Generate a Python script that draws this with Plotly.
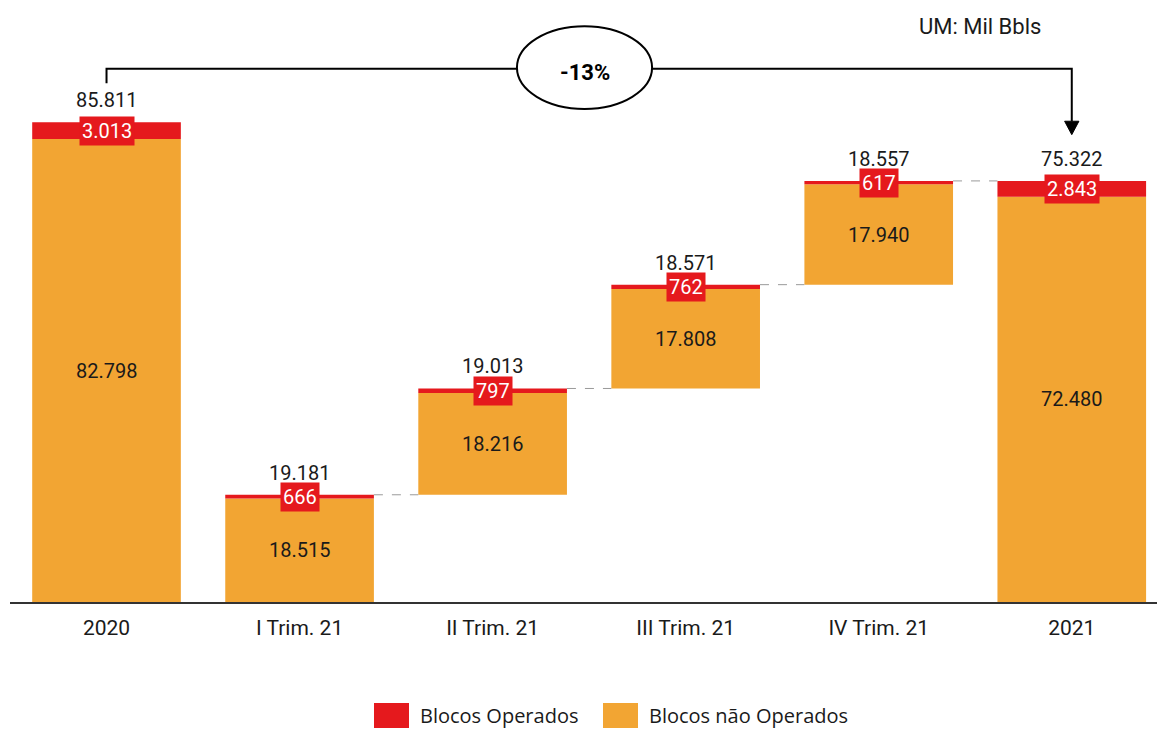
import plotly.graph_objects as go

# Production (Mil Bbls) per period
categories = ["2020", "I Trim. 21", "II Trim. 21", "III Trim. 21", "IV Trim. 21", "2021"]
nao_operados = [82.798, 18.515, 18.216, 17.808, 17.940, 72.480]
operados = [3.013, 0.666, 0.797, 0.762, 0.617, 2.843]
totais = [85.811, 19.181, 19.013, 18.571, 18.557, 75.322]
variacao = "-13%"

RED = "#E5191D"
ORANGE = "#F2A533"
NUM_FONT = "Roboto"
TXT_FONT = "Open Sans"


def fmt(v):
    # values are in thousands; '.' is the thousands separator
    return f"{v:.3f}" if v >= 1 else f"{round(v * 1000):d}"


# Bar bases: annual bars start at zero, quarterly bars stack on the running sum
n = len(categories)
bases = [0.0] * n
running = 0.0
for i in range(1, n - 1):
    bases[i] = running
    running += nao_operados[i] + operados[i]
xs = list(range(n))
bar_w = 0.77
tops = [bases[i] + nao_operados[i] + operados[i] for i in range(n)]

fig = go.Figure()
fig.add_trace(go.Bar(x=xs, y=nao_operados, base=bases, width=bar_w,
                     marker=dict(color=ORANGE, line_width=0),
                     name="Blocos não Operados", showlegend=False, hoverinfo="skip"))
fig.add_trace(go.Bar(x=xs, y=operados,
                     base=[bases[i] + nao_operados[i] for i in range(n)], width=bar_w,
                     marker=dict(color=RED, line_width=0),
                     name="Blocos Operados", showlegend=False, hoverinfo="skip"))

ann = []
shapes = []
for i in range(n):
    # non-operated value inside the orange segment
    ann.append(dict(x=xs[i], y=bases[i] + nao_operados[i] / 2, text=fmt(nao_operados[i]),
                    showarrow=False, font=dict(family=NUM_FONT, size=20, color="#1a1a1a")))
    # operated value on a red tag
    ann.append(dict(x=xs[i], y=bases[i] + nao_operados[i] + operados[i] / 2,
                    text=fmt(operados[i]), showarrow=False, bgcolor=RED, borderpad=2,
                    font=dict(family=NUM_FONT, size=20, color="white")))
    # total above the bar
    ann.append(dict(x=xs[i], y=tops[i], text=fmt(totais[i]), showarrow=False,
                    yanchor="middle", yshift=22,
                    font=dict(family=NUM_FONT, size=20, color="#1a1a1a")))

# dashed connectors between consecutive quarterly bars
for i in range(1, n - 1):
    shapes.append(dict(type="line", xref="x", yref="y",
                       x0=xs[i] + bar_w / 2, x1=xs[i + 1] - bar_w / 2,
                       y0=tops[i], y1=tops[i],
                       line=dict(color="#9a9a9a", width=1, dash="dash")))

# bracket with arrow from 2020 to 2021
y_br = 95.4
shapes.append(dict(type="path", xref="x", yref="y",
                   path=f"M {xs[0]},92.8 L {xs[0]},{y_br} L {xs[-1]},{y_br} L {xs[-1]},86.0",
                   line=dict(color="black", width=2)))
shapes.append(dict(type="path", xref="x", yref="y",
                   path=f"M {xs[-1] - 0.037},86.0 L {xs[-1] + 0.037},86.0 L {xs[-1]},83.6 Z",
                   fillcolor="black", line=dict(color="black", width=1)))
shapes.append(dict(type="circle", xref="x", yref="y",
                   x0=2.126, x1=2.826, y0=88.2, y1=103.0,
                   fillcolor="white", line=dict(color="black", width=2)))
ann.append(dict(x=2.476, y=95.4, text=f"<b>{variacao}</b>", showarrow=False, yshift=-4,
                font=dict(family=NUM_FONT, size=22, color="black")))

# unit note
ann.append(dict(xref="paper", yref="paper", x=0.8457, y=0.981, text="UM: Mil Bbls",
                xanchor="center", yanchor="middle", showarrow=False,
                font=dict(family=NUM_FONT, size=22, color="#1a1a1a")))


# custom legend below the axis
def px_x(p):
    return (p - 10) / 1147


def px_y(p):
    return (602 - p) / 587


legend_items = [("Blocos Operados", RED, 374), ("Blocos não Operados", ORANGE, 603)]
for name, col, x0 in legend_items:
    shapes.append(dict(type="rect", xref="paper", yref="paper",
                       x0=px_x(x0), x1=px_x(x0 + 35), y0=px_y(728), y1=px_y(703),
                       fillcolor=col, line_width=0))
    ann.append(dict(xref="paper", yref="paper", x=px_x(x0 + 44), y=px_y(715), text=name,
                    xanchor="left", yanchor="middle", showarrow=False,
                    font=dict(family=TXT_FONT, size=20, color="#1a1a1a")))

fig.update_layout(
    width=1157, height=730,
    margin=dict(l=10, r=0, t=15, b=128),
    plot_bgcolor="white", paper_bgcolor="white",
    barmode="overlay", showlegend=False,
    annotations=ann, shapes=shapes,
    xaxis=dict(range=[-0.5, 5.4415], tickvals=xs, ticktext=categories,
               showgrid=False, zeroline=False, showline=True, linecolor="#333333",
               linewidth=1.5, ticks="", ticklabelstandoff=6,
               tickfont=dict(family=NUM_FONT, size=21, color="#1a1a1a"),
               fixedrange=True),
    yaxis=dict(range=[0, 105], visible=False, showgrid=False, zeroline=False, fixedrange=True),
)

fig.write_html("out.html", config=dict(displayModeBar=False))
